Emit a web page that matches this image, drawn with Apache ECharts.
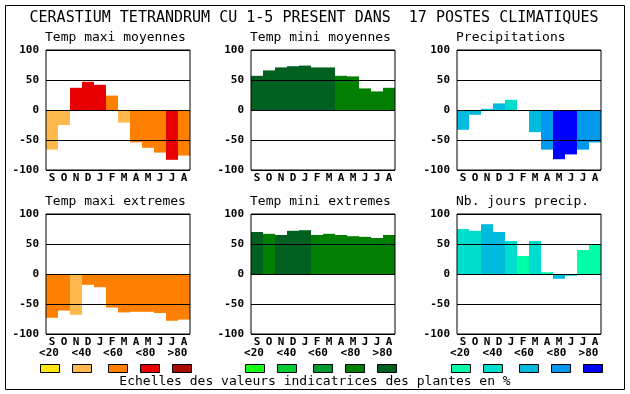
<!DOCTYPE html>
<html><head><meta charset="utf-8">
<script src="https://cdn.jsdelivr.net/npm/echarts@6/dist/echarts.min.js"></script>
<style>html,body{margin:0;padding:0;background:#fff}#c{width:630px;height:394px}</style>
</head><body><div id="c"></div>
<script>
// ---- data ----
const months = ['S','O','N','D','J','F','M','A','M','J','J','A'];
const yMin = -100, yMax = 100, yStep = 50;
const mainTitle = 'CERASTIUM TETRANDRUM CU 1-5 PRESENT DANS  17 POSTES CLIMATIQUES';
const panelTitles = ['Temp maxi moyennes','Temp mini moyennes','Precipitations',
                     'Temp maxi extremes','Temp mini extremes','Nb. jours precip.'];
const legendLabels = ['<20','<40','<60','<80','>80'];
const footerText = 'Echelles des valeurs indicatrices des plantes en %';

const tempMaxiMoy    = [-66,-25,37,47,42,24,-21,-54,-63,-71,-83,-76];
const tempMaxiMoyCls = [1,1,3,3,3,2,1,2,2,2,3,2];
const tempMiniMoy    = [57,66,71,73,74,71,71,57,56,36,31,37];
const tempMiniMoyCls = [4,4,4,4,4,4,4,3,3,3,3,3];
const precip         = [-33,-8,2,11,17,0,-37,-66,-82,-74,-66,-54];
const precipCls      = [2,2,2,2,1,2,2,3,4,4,3,3];
const tempMaxiExt    = [-73,-61,-68,-18,-22,-56,-64,-63,-63,-65,-78,-76];
const tempMaxiExtCls = [2,2,1,2,2,2,2,2,2,2,2,2];
const tempMiniExt    = [70,67,65,72,73,65,67,65,63,62,60,65];
const tempMiniExtCls = [4,3,4,4,4,3,3,3,3,3,3,3];
const nbJours        = [75,72,83,70,55,30,55,3,-8,-3,40,50];
const nbJoursCls     = [1,1,2,2,1,0,1,0,2,1,0,0];

// ---- styles ----
const palTemp  = ['#FFE614','#FFB84D','#FF8000','#E80000','#A80C00'];
const palGreen = ['#14FF14','#00CC33','#009933','#007F00','#006020'];
const palBlue  = ['#00FFAA','#00DDCC','#00BBDD','#0099EE','#0000FF'];
const MONO = 'DejaVu Sans Mono';

const panels = [
  {vals: tempMaxiMoy, cls: tempMaxiMoyCls, pal: palTemp},
  {vals: tempMiniMoy, cls: tempMiniMoyCls, pal: palGreen},
  {vals: precip,      cls: precipCls,      pal: palBlue},
  {vals: tempMaxiExt, cls: tempMaxiExtCls, pal: palTemp},
  {vals: tempMiniExt, cls: tempMiniExtCls, pal: palGreen},
  {vals: nbJours,     cls: nbJoursCls,     pal: palBlue}
];
const colLeft = [46, 251, 457];
const rowTop = [50, 214];
const titleY = [38, 202];

const grids = [], xAxes = [], yAxes = [], series = [], graphics = [];
panels.forEach((p, i) => {
  const c = i % 3, r = Math.floor(i / 3);
  grids.push({left: colLeft[c], top: rowTop[r], width: 144, height: 120,
    show: true, borderColor: '#000', borderWidth: 1, backgroundColor: 'transparent', z: 6});
  xAxes.push({gridIndex: i, type: 'category', data: months,
    axisLine: {show: false}, axisTick: {show: false}, splitLine: {show: false},
    axisLabel: {interval: 0, color: '#000', fontFamily: MONO, fontWeight: 'bold', fontSize: 11, margin: 3}});
  yAxes.push({gridIndex: i, type: 'value', min: yMin, max: yMax, interval: yStep, z: 5,
    axisLine: {show: false}, axisTick: {show: false},
    splitLine: {show: true, lineStyle: {color: '#000', width: 1}},
    axisLabel: {color: '#000', fontFamily: MONO, fontWeight: 'bold', fontSize: 11, margin: 7}});
  series.push({type: 'bar', xAxisIndex: i, yAxisIndex: i, barWidth: '100%', barCategoryGap: '0%',
    silent: true, z: 2,
    data: p.vals.map((v, j) => ({value: v, itemStyle: {color: p.pal[p.cls[j]]}}))});
  graphics.push({type: 'text', x: colLeft[c] - 1, y: titleY[r],
    style: {text: panelTitles[i], font: '13px "' + MONO + '"', fill: '#000', verticalAlign: 'middle', align: 'left'}});
});

// legends under bottom row
const labOff = [3, 35.5, 67, 99.5, 131.5];
const boxOff = [-6.5, 25.5, 62, 94, 126];
const pals = [palTemp, palGreen, palBlue];
for (let c = 0; c < 3; c++) {
  for (let k = 0; k < 5; k++) {
    graphics.push({type: 'text', x: colLeft[c] + labOff[k], y: 353.5,
      style: {text: legendLabels[k], font: 'bold 11px "' + MONO + '"', fill: '#000', align: 'center', verticalAlign: 'middle'}});
    graphics.push({type: 'rect', shape: {x: Math.round(colLeft[c] + boxOff[k]) + 0.5, y: 364.5, width: 19, height: 8},
      style: {fill: pals[c][k], stroke: '#000', lineWidth: 1}});
  }
}
graphics.push({type: 'text', x: 315, y: 382,
  style: {text: footerText, font: '13px "' + MONO + '"', fill: '#000', align: 'center', verticalAlign: 'middle'}});
graphics.push({type: 'text', x: 314, y: 18,
  style: {text: mainTitle, font: '15px "' + MONO + '"', fill: '#000', align: 'center', verticalAlign: 'middle'}});
graphics.push({type: 'rect', shape: {x: 5.5, y: 5.5, width: 619, height: 384},
  style: {fill: 'none', stroke: '#000', lineWidth: 1}});

const chart = echarts.init(document.getElementById('c'), null, {renderer: 'canvas'});
chart.setOption({
  animation: false,
  backgroundColor: '#fff',
  grid: grids, xAxis: xAxes, yAxis: yAxes, series: series,
  graphic: graphics
});
</script></body></html>
